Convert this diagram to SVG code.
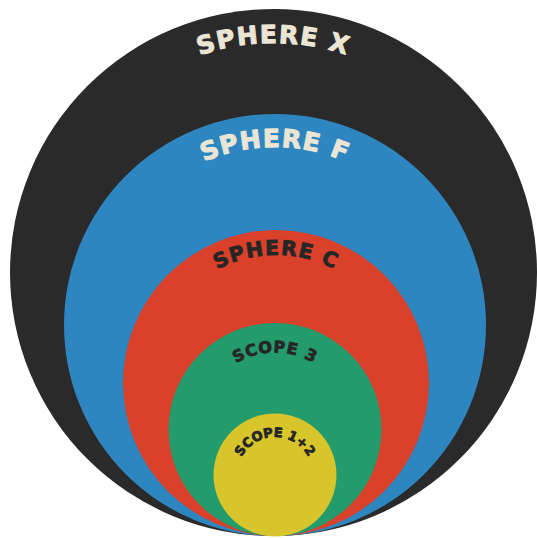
<svg xmlns="http://www.w3.org/2000/svg" width="537" height="538" viewBox="0 0 537 538">
<style>
.lbl{font-family:"DejaVu Sans","Liberation Sans",sans-serif;font-weight:bold;text-anchor:middle;stroke-linejoin:round}
.light{fill:#ebe5d6;stroke:#ebe5d6;stroke-width:1}
.dark{fill:#262626;stroke:#262626;stroke-width:0.8}
</style>
<defs>
<path id="pX" d="M44,272.5 A229.5,229.5 0 0 1 503,272.5"/>
<path id="pF" d="M97,325 A178,178 0 0 1 453,325"/>
<path id="pC" d="M148,383 A128,128 0 0 1 404,383"/>
<path id="p3" d="M198,429.5 A77,77 0 0 1 352,429.5"/>
<path id="p12" d="M237,475 A38,38 0 0 1 313,475"/>
</defs>
<rect width="537" height="538" fill="#ffffff"/>
<g id="sphere-x">
<circle cx="273.5" cy="272.5" r="263.5" fill="#2a2a2a"/>
<text class="lbl light" font-size="25" letter-spacing="1.5"><textPath href="#pX" startOffset="50%">SPHERE X</textPath></text>
</g>
<g id="sphere-f">
<circle cx="275" cy="325" r="211" fill="#2e86c1"/>
<text class="lbl light" font-size="25" letter-spacing="1.2"><textPath href="#pF" startOffset="50%">SPHERE F</textPath></text>
</g>
<g id="sphere-c">
<circle cx="276" cy="383" r="153" fill="#d9412b"/>
<text class="lbl dark" font-size="20.5" letter-spacing="1.2"><textPath href="#pC" startOffset="50%">SPHERE C</textPath></text>
</g>
<g id="scope-3">
<circle cx="275" cy="429.5" r="106.5" fill="#239b6c"/>
<text class="lbl dark" font-size="16" letter-spacing="0.8"><textPath href="#p3" startOffset="50%">SCOPE 3</textPath></text>
</g>
<g id="scope-12">
<circle cx="275" cy="475" r="61.5" fill="#d7c52b"/>
<text class="lbl dark" font-size="13" letter-spacing="0"><textPath href="#p12" startOffset="50%">SCOPE 1+2</textPath></text>
</g>
<g id="connectors"></g>
</svg>
